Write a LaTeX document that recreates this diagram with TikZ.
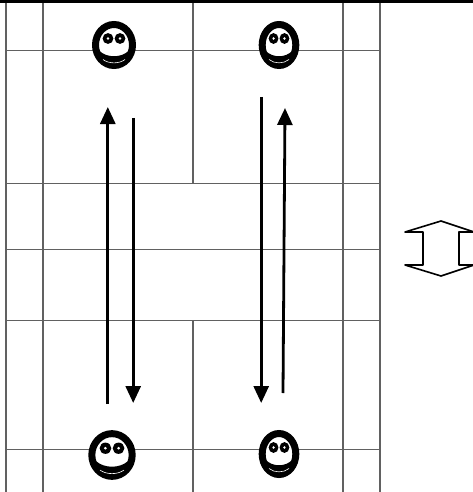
\documentclass[tikz,border=0pt]{standalone}
\usetikzlibrary{arrows.meta}
\tikzset{
 gridv/.style={draw=black!62,line width=1.1pt},
 gridh/.style={draw=black!62,line width=0.8pt},
 flow/.style={draw=black,line width=2.8pt,-{Triangle[width=15pt,length=17pt]}},
 bigarrow/.style={draw=black,line width=1.6pt,line join=round,line cap=round},
}
\newcommand{\smiley}[4]{% cx cy rx ry
 \begin{scope}[shift={(#1,#2)},x=#3/22*1pt,y=-#4/24*1pt]
  \draw[black,line width=7pt,fill=white] (0,0) ellipse (18.5 and 20.5);
  \fill[black] (-6,-6.5) circle (5.4); \fill[black] (6,-6.5) circle (5.4);
  \fill[white] (-6,-6.5) circle (1.4); \fill[white] (6,-6.5) circle (1.4);
  \fill[black] (-14.5,6) .. controls (-7,13) and (7,13) .. (14.5,6) -- (14.5,16) -- (0,22) -- (-14.5,16) -- cycle;
  \draw[white,line width=0.6pt] (-11,14.5) .. controls (-5,19) and (5,19) .. (11,14.5);
 \end{scope}}
\begin{document}
\begin{tikzpicture}[x=1pt,y=-1pt]
\useasboundingbox (0,0) rectangle (473,492);
\foreach \q in {50,183,249,320,449.5} \draw[gridh] (6,\q) -- (380,\q);
\foreach \p in {6,43,343,380} \draw[gridv] (\p,0) -- (\p,492);
\draw[gridv] (193,0) -- (193,183);
\draw[gridv] (193,320) -- (193,492);
\draw[black,line width=3pt] (0,2) -- (473,2);
\smiley{114}{45}{22}{24}
\smiley{279}{45}{20}{24}
\smiley{112}{455}{24}{25}
\smiley{279}{454}{20}{24}
\coordinate (a1) at (107.8,404); \coordinate (a2) at (107.8,107);
\coordinate (b1) at (133.2,118); \coordinate (b2) at (133.2,403);
\coordinate (c1) at (261.2,97); \coordinate (c2) at (261.2,403);
\coordinate (d1) at (283,393); \coordinate (d2) at (285,108);
\draw[flow] (a1) -- (a2);
\draw[flow] (b1) -- (b2);
\draw[flow] (c1) -- (c2);
\draw[flow] (d1) -- (d2);
\draw[bigarrow] (480,234) -- (441,221) -- (405,232) -- (423,232) -- (423,265) -- (405,265) -- (441,276) -- (480,263);
\draw[bigarrow] (480,232) -- (459,232) -- (459,265) -- (480,265);
\end{tikzpicture}
\end{document}
